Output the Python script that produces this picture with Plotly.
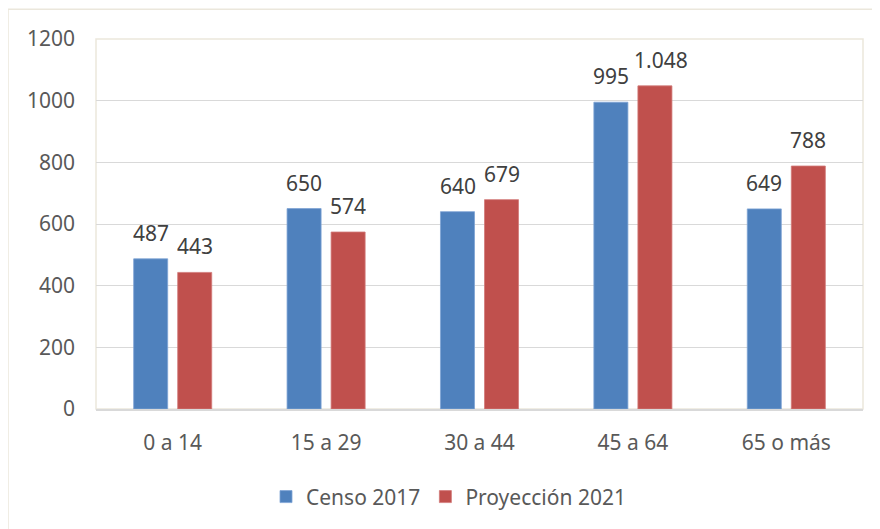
import plotly.graph_objects as go

categories = ["0 a 14", "15 a 29", "30 a 44", "45 a 64", "65 o más"]
censo_2017 = [487, 650, 640, 995, 649]
proyeccion_2021 = [443, 574, 679, 1048, 788]
censo_labels = ["487", "650", "640", "995", "649"]
proy_labels = ["443", "574", "679", "1.048", "788"]
y_ticks = [0, 200, 400, 600, 800, 1000, 1200]

BLUE = "#4F81BD"
RED = "#C0504D"
TXT = "#595959"
FONT = "Noto Sans"
FS = 21

fig = go.Figure()
fig.add_trace(go.Bar(name="Censo 2017", x=categories, y=censo_2017,
                     marker=dict(color=BLUE, line=dict(color="#7da3d4", width=0.8))))
fig.add_trace(go.Bar(name="Proyección 2021", x=categories, y=proyeccion_2021,
                     marker=dict(color=RED, line=dict(color="#d27a78", width=0.8))))

# data labels
for i, c in enumerate(categories):
    fig.add_annotation(x=c, y=censo_2017[i], text=censo_labels[i], xref="x", yref="y",
                       showarrow=False, xshift=-22, yshift=17, yanchor="bottom",
                       height=17, borderpad=0,
                       font=dict(family=FONT, size=FS, color="#404040"))
    wide = len(proy_labels[i]) > 3
    fig.add_annotation(x=c, y=proyeccion_2021[i], text=proy_labels[i], xref="x", yref="y",
                       showarrow=False, xshift=22 + (6 if wide else 0),
                       yshift=17, yanchor="bottom", height=17, borderpad=0,
                       font=dict(family=FONT, size=FS, color="#404040"))

# page body has an 8px margin, so the figure is offset by 8px right and down
W, H = 872, 521
L, R, T, B = 88, 17, 31, 117
pw, ph = W - L - R, H - T - B

# outer chart border
fig.add_shape(type="rect", xref="paper", yref="paper",
              x0=-L / pw, x1=1 + (R + 20) / pw,
              y0=-(B + 20) / ph, y1=1 + (T - 1) / ph,
              line=dict(color="#ebe7dc", width=1.5), fillcolor="rgba(0,0,0,0)", layer="below")
# plot area border
fig.add_shape(type="rect", xref="paper", yref="paper", x0=0, x1=1, y0=0, y1=1,
              line=dict(color="#ebe7dc", width=1.5), fillcolor="rgba(0,0,0,0)", layer="below")

fig.update_layout(
    width=W, height=H,
    margin=dict(l=L, r=R, t=T, b=B),
    paper_bgcolor="white", plot_bgcolor="white",
    barmode="group", bargap=0.426, bargroupgap=0.227,
    font=dict(family=FONT, size=FS, color=TXT),
    showlegend=True,
    legend=dict(orientation="h", x=(266 - 8 - L) / pw, xanchor="left",
                y=-(480 - 8 - (H - B)) / ph, yanchor="top",
                font=dict(family=FONT, size=FS, color=TXT),
                itemwidth=30, tracegroupgap=0),
)
fig.update_xaxes(showgrid=False, ticks="", showline=True, linecolor="#d9d9d9", linewidth=2,
                 tickfont=dict(family=FONT, size=FS, color=TXT), ticklabelstandoff=14)
fig.update_yaxes(range=[0, 1200], tickvals=y_ticks, showgrid=True, gridcolor="#d9d9d9",
                 gridwidth=1, zeroline=False, showline=False, ticks="",
                 tickfont=dict(family=FONT, size=FS, color=TXT), ticklabelstandoff=20)

fig.write_html("out.html")
